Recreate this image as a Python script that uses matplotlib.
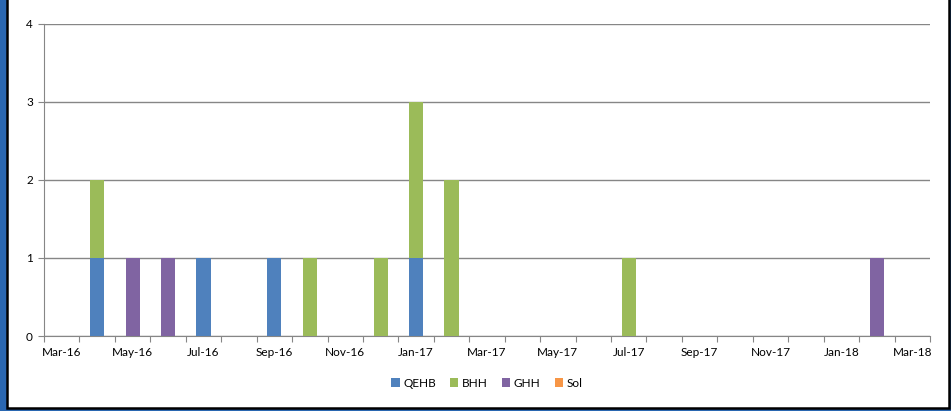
import matplotlib
matplotlib.use("Agg")
import matplotlib.pyplot as plt
from matplotlib.patches import Rectangle
import numpy as np

months = ["Mar-16", "Apr-16", "May-16", "Jun-16", "Jul-16", "Aug-16", "Sep-16", "Oct-16",
          "Nov-16", "Dec-16", "Jan-17", "Feb-17", "Mar-17", "Apr-17", "May-17", "Jun-17",
          "Jul-17", "Aug-17", "Sep-17", "Oct-17", "Nov-17", "Dec-17", "Jan-18", "Feb-18", "Mar-18"]
qehb = [0, 1, 0, 0, 1, 0, 1, 0, 0, 0, 1, 0, 0, 0, 0, 0, 0, 0, 0, 0, 0, 0, 0, 0, 0]
bhh  = [0, 1, 0, 0, 0, 0, 0, 1, 0, 1, 2, 2, 0, 0, 0, 0, 1, 0, 0, 0, 0, 0, 0, 0, 0]
ghh  = [0, 0, 1, 1, 0, 0, 0, 0, 0, 0, 0, 0, 0, 0, 0, 0, 0, 0, 0, 0, 0, 0, 0, 1, 0]
sol  = [0] * 25
series = [("QEHB", qehb, "#4f81bd"), ("BHH", bhh, "#9bbb59"),
          ("GHH", ghh, "#8064a2"), ("Sol", sol, "#f79646")]

plt.rcParams['font.family'] = ['Lato', 'DejaVu Sans']
W, H = 951, 411
fig = plt.figure(figsize=(W / 100, H / 100), dpi=100)
fig.patch.set_facecolor("#2a67b1")
# white chart area with dark frame
fig.patches.append(Rectangle((7 / W, 3.5 / H), (949 - 7) / W, (H - 3.5) / H + 0.01,
                             transform=fig.transFigure, facecolor="white",
                             edgecolor="black", linewidth=1.8, zorder=-5))

ax = fig.add_axes([44 / W, 1 - 336 / H, (930 - 44) / W, (336 - 24) / H])
ax.set_zorder(2)
ax.set_facecolor("white")
x = np.arange(len(months)) + 0.5
bottom = np.zeros(len(months))
for name, vals, col in series:
    v = np.array(vals, dtype=float)
    ax.bar(x, v, width=0.4, bottom=bottom, color=col, label=name, zorder=3)
    bottom += v

ax.set_xlim(0, len(months))
ax.set_ylim(0, 4)
ax.set_yticks([0, 1, 2, 3, 4])
ax.set_xticks(np.arange(len(months) + 1))
ax.set_xticklabels([])
ax.set_xticks(x[::2], minor=True)
ax.set_xticklabels(months[::2], minor=True)
ax.tick_params(axis='x', which='major', length=4, color="#868686", direction='out')
ax.tick_params(axis='x', which='minor', length=0, pad=8, labelsize=8.5)
ax.tick_params(axis='y', length=4, color="#868686", labelsize=8.5, pad=4)
ax.grid(axis='y', color="#868686", linewidth=1, zorder=0)
ax.set_axisbelow(True)
for s in ["top", "right"]:
    ax.spines[s].set_visible(False)
ax.spines["left"].set_color("#868686")
ax.spines["bottom"].set_color("#868686")

leg = fig.legend(loc="center", bbox_to_anchor=(487 / W, 1 - 383 / H), ncol=4, frameon=False,
                 fontsize=8.5, handlelength=0.7, handleheight=0.7, handletextpad=0.3,
                 columnspacing=1.2)
fig.savefig("out.png", dpi=100, facecolor=fig.get_facecolor())
